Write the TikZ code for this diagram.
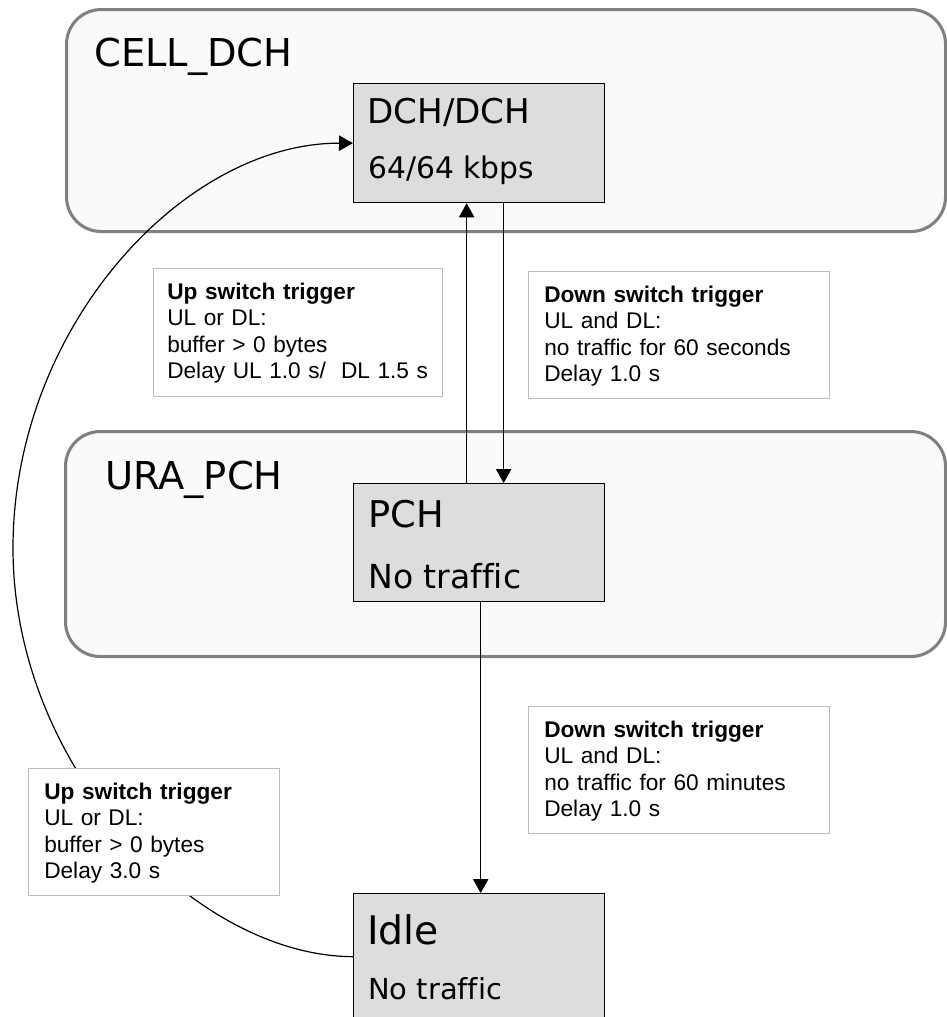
\documentclass[tikz,border=0pt]{standalone}
\usepackage{fontspec}
\usetikzlibrary{arrows.meta}
\newfontfamily\statefont{DejaVu Sans}[Ligatures=NoCommon]
\newfontfamily\notefont{Liberation Sans}[Ligatures=NoCommon]
\definecolor{regionline}{HTML}{808080}
\definecolor{regionfill}{HTML}{FAFAFA}
\definecolor{statefill}{HTML}{DDDDDD}
\definecolor{noteline}{HTML}{BDBDBD}
\newcommand\fsz[1]{\fontsize{#1}{1.2\dimexpr#1\relax}\selectfont}

\begin{document}
\begin{tikzpicture}[x=0.75pt, y=-0.75pt,
  region/.style={draw=regionline, line width=2.3pt, fill=regionfill,
    rounded corners=26pt, anchor=north west, inner sep=0pt},
  regionlabel/.style={anchor=base west, inner sep=0pt, font=\statefont\fsz{28.8pt}},
  statebox/.style={draw=black, line width=1pt, fill=statefill,
    anchor=north west, inner sep=0pt, minimum width=251*0.75pt},
  statetext/.style={anchor=base west, inner sep=0pt},
  notebox/.style={draw=noteline, line width=1pt, fill=white,
    anchor=north west, inner sep=0pt, minimum height=127*0.75pt},
  notetext/.style={anchor=base west, inner sep=0pt, text width=320*0.75pt,
    align=left, font=\notefont\fontsize{17pt}{19.9pt}\selectfont},
  flow/.style={line width=0.9pt, -{Triangle[length=10.5pt, width=11.5pt]}},
  loopline/.style={line width=0.9pt}
]
\useasboundingbox (0,0) rectangle (946,1017);

% ---- regions (RRC states) ----
\node[region, minimum width=879*0.75pt, minimum height=222*0.75pt] (cell) at (65,8) {};
\node[regionlabel] (celltitle) at (94,66) {CELL\_DCH};
\node[region, minimum width=880*0.75pt, minimum height=225*0.75pt] (ura) at (64,430) {};
\node[regionlabel] (uratitle) at (105,489) {URA\_PCH};

% ---- channel states ----
\node[statebox, minimum height=119*0.75pt] (dch) at (353,83) {};
\node[statetext, font=\statefont\fsz{25.6pt}] (dchname) at (367,123) {DCH/DCH};
\node[statetext, font=\statefont\fsz{22.3pt}] (dchrate) at (368,178) {64/64 kbps};

\node[statebox, minimum height=118*0.75pt] (pch) at (353,483) {};
\node[statetext, font=\statefont\fsz{27.6pt}] (pchname) at (368,527) {PCH};
\node[statetext, font=\statefont\fsz{24.8pt}] (pchrate) at (368,588) {No traffic};

\node[statebox, minimum height=126*0.75pt] (idle) at (353,893) {};
\node[statetext, font=\statefont\fsz{29.5pt}] (idlename) at (367,944) {Idle};
\node[statetext, font=\statefont\fsz{21.7pt}] (idlerate) at (368,999) {No traffic};

% ---- return path from Idle up to DCH ----
\coordinate (loopleft) at (13,548);
\draw[loopline] (idle.west) .. controls (195,956) and (13,768) .. (loopleft);
\draw[flow] (loopleft) .. controls (13,328) and (183,143) .. (dch.west);

% ---- trigger notes ----
\node[notebox, minimum width=289*0.75pt, minimum height=128*0.75pt] (upnote) at (153,268) {};
\node[notetext] (upnotetext) at (167,299)
  {\textbf{Up switch trigger}\\UL or DL:\\buffer > 0 bytes\\Delay UL 1.0 s/\ \ DL 1.5 s};

\node[notebox, minimum width=301*0.75pt] (downnote) at (528,271) {};
\node[notetext] (downnotetext) at (544,302)
  {\textbf{Down switch trigger}\\UL and DL:\\no traffic for 60 seconds\\Delay 1.0 s};

\node[notebox, minimum width=301*0.75pt] (idlenote) at (528,706) {};
\node[notetext] (idlenotetext) at (544,737)
  {\textbf{Down switch trigger}\\UL and DL:\\no traffic for 60 minutes\\Delay 1.0 s};

\node[notebox, minimum width=251*0.75pt] (wakenote) at (28,768) {};
\node[notetext] (wakenotetext) at (44,799)
  {\textbf{Up switch trigger}\\UL or DL:\\buffer > 0 bytes\\Delay 3.0 s};

% ---- transitions ----
\draw[flow] ([xshift=-12.5*0.75pt]pch.north) -- ([xshift=-12.5*0.75pt]dch.south);
\draw[flow] ([xshift=24.5*0.75pt]dch.south) -- ([xshift=24.5*0.75pt]pch.north);
\draw[flow] ([xshift=1.5*0.75pt]pch.south) -- ([xshift=1.5*0.75pt]idle.north);
\end{tikzpicture}
\end{document}
